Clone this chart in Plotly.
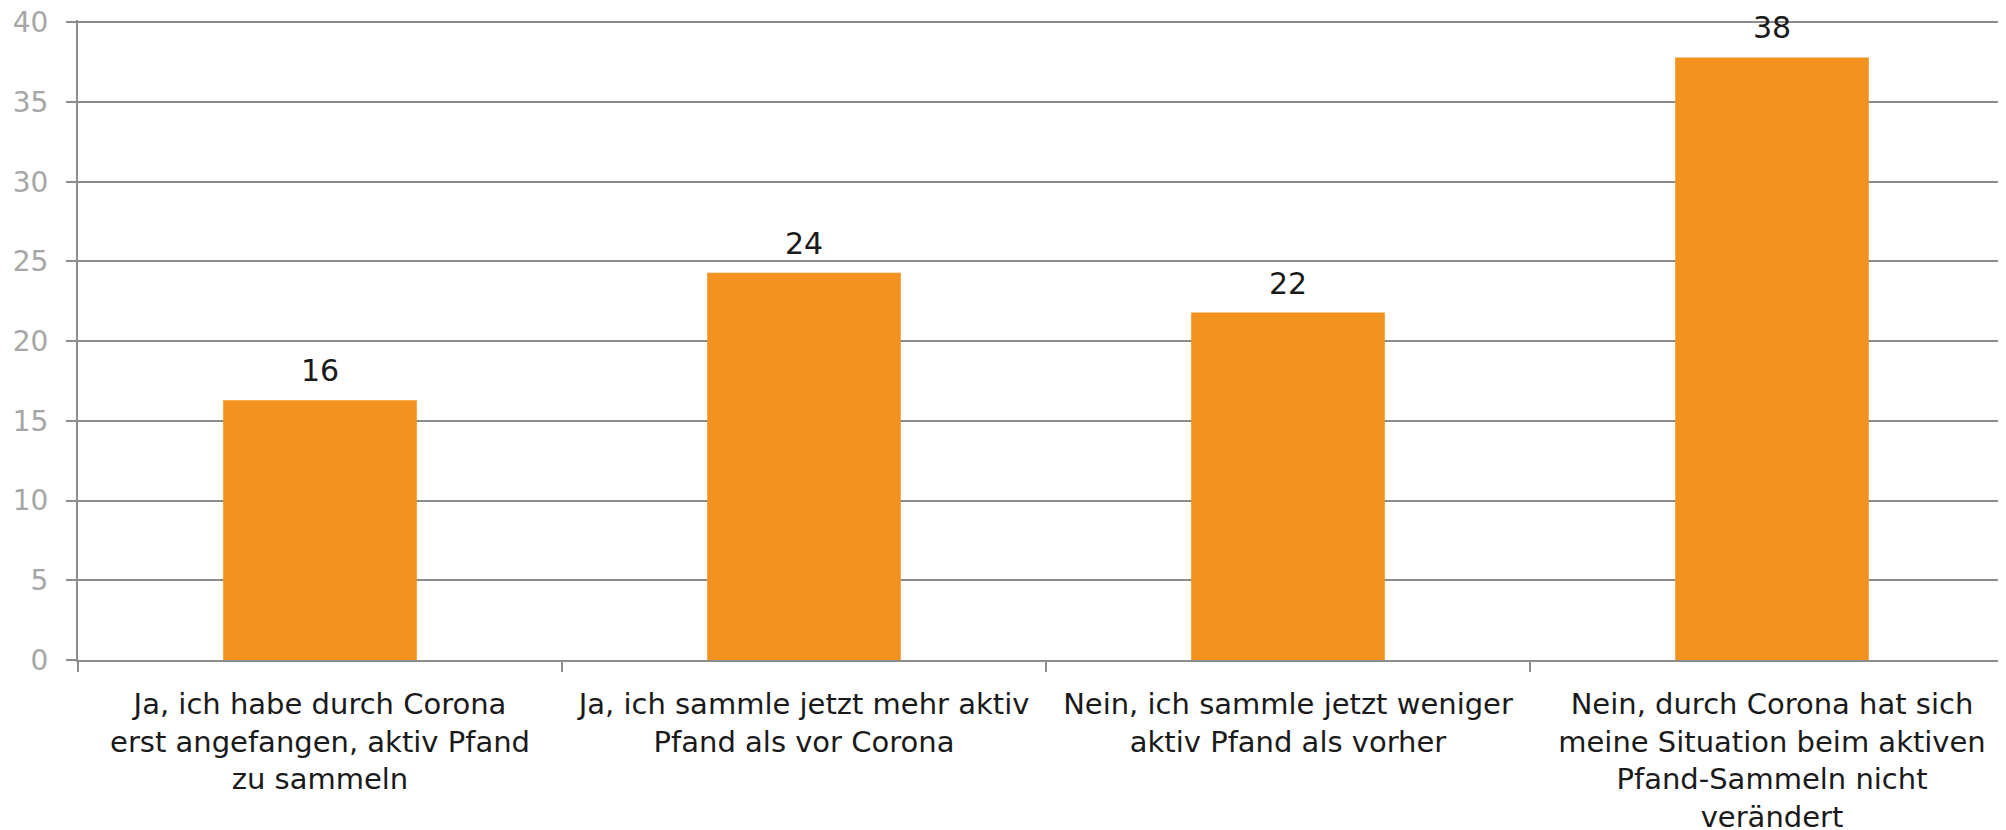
import plotly.graph_objects as go

categories = [
    "Ja, ich habe durch Corona<br>erst angefangen, aktiv Pfand<br>zu sammeln",
    "Ja, ich sammle jetzt mehr aktiv<br>Pfand als vor Corona",
    "Nein, ich sammle jetzt weniger<br>aktiv Pfand als vorher",
    "Nein, durch Corona hat sich<br>meine Situation beim aktiven<br>Pfand-Sammeln nicht<br>verändert",
]
values = [16.3, 24.3, 21.8, 37.8]
value_labels = ["16", "24", "22", "38"]
y_ticks = [0, 5, 10, 15, 20, 25, 30, 35, 40]

FONT = "DejaVu Sans"
GRID = "#8c8c8c"
BAR = "#F3921E"

fig = go.Figure()
fig.add_trace(go.Bar(
    x=categories,
    y=values,
    width=0.4,
    marker=dict(color=BAR, line=dict(width=0)),
    hoverinfo="skip",
))

for c, v, t in zip(categories, values, value_labels):
    fig.add_annotation(
        x=c, y=v, text=t, showarrow=False, yanchor="bottom", yshift=10,
        font=dict(family=FONT, size=30, color="#1a1a1a"),
    )

fig.update_layout(
    width=2006, height=830,
    margin=dict(l=70, r=0, t=12, b=178, autoexpand=False),
    paper_bgcolor="white", plot_bgcolor="white",
    showlegend=False,
    bargap=0.6,
    font=dict(family=FONT),
)
fig.update_xaxes(
    type="category",
    range=[-0.5, 3.5],
    tickson="boundaries",
    ticks="outside", ticklen=10, tickwidth=2, tickcolor=GRID,
    showline=True, linecolor=GRID, linewidth=2,
    showgrid=False,
    automargin=False,
    ticklabeloverflow="allow",
    ticklabelstandoff=17,
    tickfont=dict(family=FONT, size=29, color="#1a1a1a"),
    tickangle=0,
)
fig.update_yaxes(
    range=[0, 40.15],
    tickvals=y_ticks,
    ticks="outside", ticklen=10, tickwidth=2, tickcolor=GRID,
    showline=True, linecolor=GRID, linewidth=2,
    showgrid=True, gridcolor=GRID, gridwidth=2,
    zeroline=False,
    automargin=False,
    ticklabeloverflow="allow",
    tickfont=dict(family=FONT, size=28, color="#a6a6a6"),
    ticklabelstandoff=12,
)

fig.write_html("out.html")
